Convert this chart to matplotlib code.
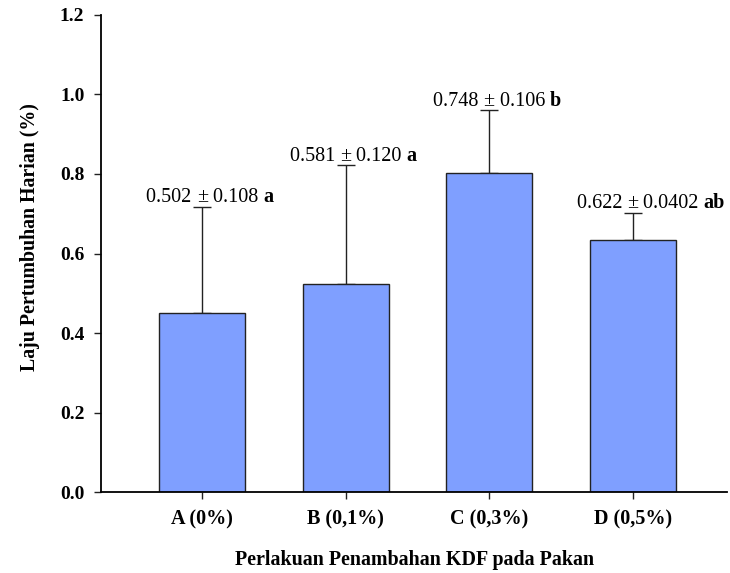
import matplotlib.pyplot as plt

# data
categories = ["A (0%)", "B (0,1%)", "C (0,3%)", "D (0,5%)"]
bar_heights = [0.450, 0.523, 0.802, 0.635]
err_upper = [0.267, 0.299, 0.158, 0.066]
label_means = ["0.502", "0.581", "0.748", "0.622"]
label_sds = ["0.108", "0.120", "0.106", "0.0402"]
label_letters = ["a", "a", "b", "ab"]
label_y = [0.730, 0.833, 0.971, 0.714]

plt.rcParams['font.family'] = ['Liberation Serif', 'DejaVu Serif']

fig = plt.figure(figsize=(7.3, 5.73), dpi=100)
ax = fig.add_axes([0.1384, 0.1408, 0.858, 0.8335])

x = list(range(len(categories)))
ax.bar(x, bar_heights, width=0.6, color="#7f9fff", edgecolor="#222222",
       linewidth=1.0, zorder=2)
ax.errorbar(x, bar_heights, yerr=[[0] * len(x), err_upper], fmt="none",
            ecolor="#222222", elinewidth=1.0, capsize=6.5, capthick=1.0, zorder=1)

# annotations: "mean ± sd letter", with ± centred over the bar
for xi, m, s, l, yy in zip(x, label_means, label_sds, label_letters, label_y):
    pm = ax.text(xi, yy, "±", ha="center", va="baseline", fontsize=14.5)
    ax.annotate(m + " ", xy=(0, 0), xycoords=pm, ha="right", va="bottom",
                fontsize=14.5)
    right = ax.annotate(" " + s + " ", xy=(1, 0), xycoords=pm, ha="left",
                        va="bottom", fontsize=14.5)
    ax.annotate(l, xy=(1, 0), xycoords=right, ha="left", va="bottom",
                fontsize=14.5, fontweight="bold")

ax.set_xlim(-0.705, 3.66)
ax.set_ylim(0, 1.2)
ax.set_yticks([0.0, 0.2, 0.4, 0.6, 0.8, 1.0, 1.2])
ax.set_yticklabels(["0.0", "0.2", "0.4", "0.6", "0.8", "1.0", "1.2"])
ax.set_xticks(x)
ax.set_xticklabels(categories)

for lab in ax.get_xticklabels():
    lab.set_fontweight("bold")
    lab.set_fontsize(14.5)
for lab in ax.get_yticklabels():
    lab.set_fontweight("bold")
    lab.set_fontsize(14)

ax.tick_params(axis="both", direction="out", length=5, width=1.0, color="#222222")
ax.tick_params(axis="x", pad=7)
ax.tick_params(axis="y", pad=7)

ax.spines["top"].set_visible(False)
ax.spines["right"].set_visible(False)
ax.spines["left"].set_linewidth(1.3)
ax.spines["bottom"].set_linewidth(1.3)

ax.set_ylabel("Laju Pertumbuhan Harian (%)", fontsize=14.3, fontweight="bold",
              labelpad=12)
ax.yaxis.set_label_coords(-0.098, 0.535)
ax.set_xlabel("Perlakuan Penambahan KDF pada Pakan", fontsize=14.4,
              fontweight="bold", labelpad=15)

fig.savefig("out.png", dpi=100)
